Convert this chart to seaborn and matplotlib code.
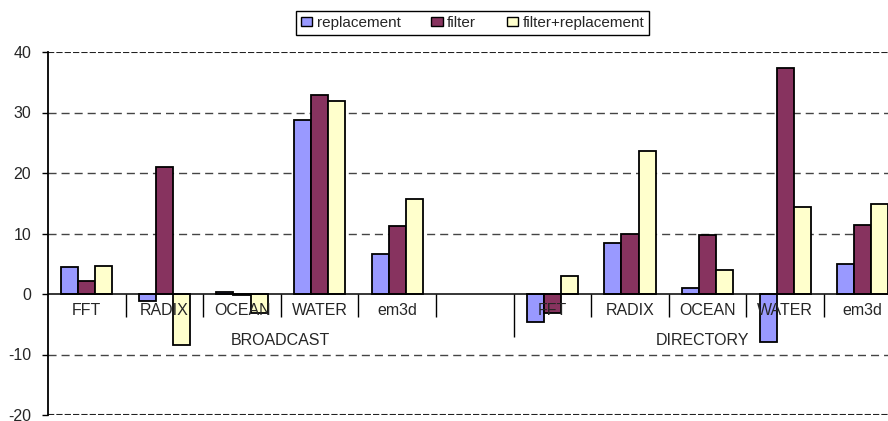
import matplotlib
matplotlib.use("Agg")
import matplotlib.pyplot as plt
import seaborn as sns
import pandas as pd
from matplotlib.patches import Patch

# ---- data ----
groups = ["BROADCAST"] * 6 + ["DIRECTORY"] * 5
benchmarks = ["FFT", "RADIX", "OCEAN", "WATER", "em3d", "",
              "FFT", "RADIX", "OCEAN", "WATER", "em3d"]
series = ["replacement", "filter", "filter+replacement"]
replacement = [4.4, -1.1, 0.35, 28.8, 6.6, None, -4.7, 8.5, 1.0, -7.9, 5.0]
filter_ = [2.2, 21.0, -0.2, 32.9, 11.3, None, -3.1, 10.0, 9.8, 37.4, 11.4]
filter_replacement = [4.6, -8.5, -3.2, 31.9, 15.7, None, 3.0, 23.6, 3.9, 14.3, 14.9]
colors = ["#9999FF", "#87335F", "#FFFFCC"]
yticks = [-20, -10, 0, 10, 20, 30, 40]

# ---- table ----
keys = [f"{g}:{b}:{i}" for i, (g, b) in enumerate(zip(groups, benchmarks))]
rows = []
for s, vals in zip(series, [replacement, filter_, filter_replacement]):
    for k, v in zip(keys, vals):
        if v is not None:
            rows.append({"slot": k, "series": s, "value": v})
df = pd.DataFrame(rows)

sns.set_style("white")
plt.rcParams["font.family"] = ["Liberation Sans", "DejaVu Sans"]

W, H = 888, 421
fig = plt.figure(figsize=(W / 100, H / 100), dpi=100)
ax = fig.add_axes([48 / W, (H - 415) / H, 853.6 / W, 363 / H])

sns.barplot(data=df, x="slot", y="value", hue="series", order=keys,
            hue_order=series, palette=colors, width=0.66, saturation=1,
            edgecolor="black", linewidth=1.3, legend=False, ax=ax, zorder=3)

ax.set_xlim(-0.5, len(keys) - 0.5)
ax.set_ylim(min(yticks), max(yticks))
ax.set_xticks([])
ax.set_xlabel("")
ax.set_ylabel("")
ax.set_yticks(yticks)
ax.set_yticklabels([str(t) for t in yticks], fontsize=11.5)
ax.tick_params(axis="y", direction="out", length=4, width=1, color="black",
               left=True, pad=8)

for sp in ["top", "right", "bottom"]:
    ax.spines[sp].set_visible(False)
ax.spines["left"].set_color("black")
ax.spines["left"].set_linewidth(1.3)
ax.spines["left"].set_zorder(6)

# gridlines
for t in yticks:
    if t == 0:
        ax.axhline(0, color="black", lw=1.1, zorder=4)
    elif t in (min(yticks), max(yticks)):
        ax.axhline(t, color="#222222", lw=1.5, ls=(0, (3, 1)), zorder=1)
    else:
        ax.axhline(t, color="#444444", lw=1, ls=(0, (5.8, 3.6)), zorder=1)

# category labels
for i, b in enumerate(benchmarks):
    ax.text(i, -2.75, b, ha="center", va="center", fontsize=11.5, zorder=7)

# group labels
for g in ["BROADCAST", "DIRECTORY"]:
    idx = [i for i, gg in enumerate(groups) if gg == g]
    c = (idx[0] + idx[-1]) / 2
    ax.text(c - (0.07 if g == "DIRECTORY" else 0), -7.7, g, ha="center",
            va="center", fontsize=11.5, zorder=7)

# category separators
for i in range(len(keys) - 1):
    long = groups[i] != groups[i + 1]
    ax.vlines(i + 0.5, 0, -7.05 if long else -3.75, color="black", lw=1, zorder=4)

handles = [Patch(facecolor=c, edgecolor="black", lw=1, label=s)
           for s, c in zip(series, colors)]
leg = fig.legend(handles=handles, loc="center",
                 bbox_to_anchor=(472.5 / W, 1 - 23 / H), ncol=3,
                 frameon=True, fancybox=False, edgecolor="black", framealpha=1,
                 fontsize=11, handlelength=0.75, handleheight=0.55,
                 handletextpad=0.3, columnspacing=2.0, borderpad=0.3,
                 borderaxespad=0)
leg.get_frame().set_linewidth(1)

fig.savefig("out.png", dpi=100)
